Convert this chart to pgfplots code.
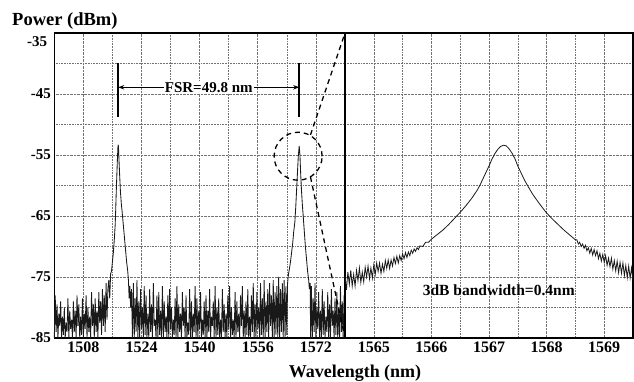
\documentclass[border=0pt]{standalone}
\usepackage{pgfplots}
\pgfplotsset{compat=1.18}
\usepackage{fontspec}
\setmainfont{Liberation Serif}
\usetikzlibrary{arrows.meta}
\begin{document}
\begin{tikzpicture}
\useasboundingbox (0bp,0bp) rectangle (634bp,382bp);
\pgfplotsset{
  every axis/.append style={
    scale only axis, height=305bp, ymin=-85, ymax=-35,
    ytick={-85,-75,-65,-55,-45,-35},
    minor ytick={-80,-70,-60,-50,-40},
    grid=both,
    grid style={densely dotted, black!55, line width=0.6pt},
    minor grid style={densely dotted, black!55, line width=0.6pt},
    axis line style={line width=1.1pt},
    major tick length=0pt, minor tick length=0pt,
    xticklabel style={font=\bfseries\fontsize{16bp}{18bp}\selectfont},
    yticklabel style={font=\bfseries\fontsize{15bp}{18bp}\selectfont},
    clip=false,
  }
}
\begin{axis}[at={(54.3bp,44bp)}, anchor=south west, width=290.7bp,
  xmin=1500, xmax=1580,
  xtick={1508,1524,1540,1556,1572}, xticklabels={1508,1524,1540,1556,1572},
  minor xtick={1500,1516,1532,1548,1564,1580},
  yticklabels={-85,-75,-65,-55,-45,{}}]
\addplot[black!90, line width=0.85pt] coordinates {
(1500.00,-85) (1500.25,-78) (1500.50,-84) (1500.75,-79.5) (1501.00,-85) (1501.25,-81)
(1501.50,-83) (1501.75,-79) (1502.00,-85) (1502.25,-81.5) (1502.50,-84.5) (1502.75,-80)
(1503.00,-85) (1503.25,-82.5) (1503.50,-84) (1503.75,-78.5) (1504.00,-85) (1504.25,-80.5)
(1504.50,-83.5) (1504.75,-82) (1505.00,-85) (1505.25,-79) (1505.50,-84) (1505.75,-80.5)
(1506.00,-85) (1506.25,-78) (1506.50,-83) (1506.75,-79.5) (1507.00,-85) (1507.25,-81.5)
(1507.50,-84.5) (1507.75,-78.5) (1508.00,-85) (1508.25,-81) (1508.50,-83.5) (1508.75,-78)
(1509.00,-85) (1509.25,-80) (1509.50,-84) (1509.75,-81.5) (1510.00,-85) (1510.25,-77.5)
(1510.50,-83) (1510.75,-79.5) (1511.00,-85) (1511.25,-78.5) (1511.50,-84) (1511.75,-80.5)
(1512.00,-85) (1512.25,-77.5) (1512.50,-82.5) (1512.75,-79) (1513.00,-84.5) (1513.25,-77)
(1513.50,-83) (1513.75,-78) (1514.00,-84) (1514.25,-76) (1514.50,-82) (1514.75,-77)
(1515.00,-75.5) (1515.25,-78.5) (1515.50,-74.5) (1515.75,-74) (1516.00,-72.5) (1516.25,-71)
(1516.50,-69) (1516.75,-66.5) (1516.90,-64) (1517.05,-61) (1517.20,-58.5) (1517.35,-56)
(1517.50,-53.8) (1517.60,-53.3) (1517.70,-54.2) (1517.85,-56.5) (1518.00,-58.5) (1518.20,-61)
(1518.45,-63) (1518.70,-64.5) (1519.00,-66.5) (1519.30,-68.5) (1519.60,-70.5) (1519.90,-72.5)
(1520.20,-74) (1520.40,-75.5) (1520.60,-78.5) (1520.80,-76.5) (1521.00,-80) (1521.25,-77)
(1521.50,-85)
(1521.75,-76) (1522.00,-85) (1522.25,-78.5) (1522.50,-84) (1522.75,-75.5) (1523.00,-85)
(1523.25,-79) (1523.50,-85) (1523.75,-77) (1524.00,-83.5) (1524.25,-80) (1524.50,-85)
(1524.75,-76.5) (1525.00,-84.5) (1525.25,-78) (1525.50,-85) (1525.75,-81) (1526.00,-85)
(1526.25,-77) (1526.50,-84) (1526.75,-79.5) (1527.00,-85) (1527.25,-76) (1527.50,-83)
(1527.75,-82) (1528.00,-85) (1528.25,-78) (1528.50,-85) (1528.75,-77.5) (1529.00,-84.5)
(1529.25,-80.5) (1529.50,-85) (1529.75,-76.5) (1530.00,-85) (1530.25,-79) (1530.50,-84)
(1530.75,-81.5) (1531.00,-85) (1531.25,-78) (1531.50,-85) (1531.75,-77) (1532.00,-83.5)
(1532.25,-80) (1532.50,-85) (1532.75,-82) (1533.00,-84.5) (1533.25,-78.5) (1533.50,-85)
(1533.75,-76.5) (1534.00,-85) (1534.25,-79.5) (1534.50,-84) (1534.75,-81) (1535.00,-85)
(1535.25,-77.5) (1535.50,-83) (1535.75,-80) (1536.00,-85) (1536.25,-78) (1536.50,-85)
(1536.75,-82.5) (1537.00,-84.5) (1537.25,-77) (1537.50,-85) (1537.75,-79) (1538.00,-85)
(1538.25,-81) (1538.50,-84) (1538.75,-76.5) (1539.00,-85) (1539.25,-78.5) (1539.50,-85)
(1539.75,-80.5) (1540.00,-83.5) (1540.25,-77.5) (1540.50,-85) (1540.75,-82) (1541.00,-84.5)
(1541.25,-79) (1541.50,-85) (1541.75,-78) (1542.00,-85) (1542.25,-80.5) (1542.50,-84)
(1542.75,-77) (1543.00,-85) (1543.25,-81.5) (1543.50,-83) (1543.75,-79) (1544.00,-85)
(1544.25,-76.5) (1544.50,-85) (1544.75,-80) (1545.00,-84.5) (1545.25,-78.5) (1545.50,-85)
(1545.75,-82) (1546.00,-85) (1546.25,-77) (1546.50,-84) (1546.75,-79.5) (1547.00,-85)
(1547.25,-81) (1547.50,-85) (1547.75,-78) (1548.00,-83.5) (1548.25,-76.5) (1548.50,-85)
(1548.75,-80) (1549.00,-84.5) (1549.25,-82) (1549.50,-85) (1549.75,-77.5) (1550.00,-85)
(1550.25,-79) (1550.50,-84) (1550.75,-81) (1551.00,-85) (1551.25,-78) (1551.50,-83)
(1551.75,-76.5) (1552.00,-85) (1552.25,-80.5) (1552.50,-85) (1552.75,-79) (1553.00,-84.5)
(1553.25,-77) (1553.50,-85) (1553.75,-81.5) (1554.00,-85) (1554.25,-78) (1554.50,-84)
(1554.75,-76) (1555.00,-85) (1555.25,-79.5) (1555.50,-85) (1555.75,-77.5) (1556.00,-83.5)
(1556.25,-80) (1556.50,-85) (1556.75,-76) (1557.00,-84.5) (1557.25,-78.5) (1557.50,-85)
(1557.75,-75.5) (1558.00,-85) (1558.25,-79) (1558.50,-84) (1558.75,-77) (1559.00,-85)
(1559.25,-76) (1559.50,-83) (1559.75,-78) (1560.00,-85) (1560.25,-75.5) (1560.50,-85)
(1560.75,-77.5) (1561.00,-84.5) (1561.25,-76.5) (1561.50,-85) (1561.75,-75) (1562.00,-85)
(1562.25,-77) (1562.50,-84) (1562.75,-76) (1563.00,-85) (1563.25,-75.5) (1563.50,-85)
(1563.75,-76.5)
(1564.00,-84.5) (1564.20,-76) (1564.45,-74.5) (1564.75,-73.5) (1565.00,-72.5) (1565.30,-71)
(1565.60,-69.5) (1565.90,-67.5) (1566.20,-66) (1566.45,-63.5) (1566.70,-60.5) (1566.95,-57.5)
(1567.15,-55.2) (1567.40,-53.5) (1567.60,-55) (1567.80,-58) (1568.00,-60.5) (1568.25,-63)
(1568.50,-65) (1568.80,-67.5) (1569.10,-70) (1569.40,-72) (1569.70,-74) (1570.00,-75.5)
(1570.20,-77) (1570.40,-76) (1570.55,-85)
(1570.75,-76.5) (1571.00,-85) (1571.25,-78.5) (1571.50,-84) (1571.75,-76) (1572.00,-85)
(1572.25,-80) (1572.50,-83.5) (1572.75,-77.5) (1573.00,-85) (1573.25,-80.5) (1573.50,-85)
(1573.75,-77) (1574.00,-84.5) (1574.25,-79) (1574.50,-85) (1574.75,-81.5) (1575.00,-84)
(1575.25,-77.5) (1575.50,-85) (1575.75,-79.5) (1576.00,-85) (1576.25,-77) (1576.50,-83)
(1576.75,-80.5) (1577.00,-85) (1577.25,-78.5) (1577.50,-84.5) (1577.75,-77.5) (1578.00,-85)
(1578.25,-80) (1578.50,-85) (1578.75,-76.5) (1579.00,-84) (1579.25,-79) (1579.50,-85)
(1579.75,-78) (1580.00,-85)
};
% -35 tick label, set a little below the top edge as in the original
\node[anchor=north east, inner sep=0pt, xshift=-7bp, yshift=-3bp, font=\bfseries\fontsize{15bp}{18bp}\selectfont] at (axis cs:1500,-35) {-35};
% FSR annotation
\draw[line width=1.6pt] (axis cs:1517.6,-39.9) -- (axis cs:1517.6,-48.8);
\draw[line width=1.6pt] (axis cs:1567.4,-39.9) -- (axis cs:1567.4,-48.8);
\draw[line width=1.1pt, -{Stealth[length=6pt,width=4.5pt]}] (axis cs:1531,-43.9) -- (axis cs:1517.6,-43.9);
\draw[line width=1.1pt, -{Stealth[length=6pt,width=4.5pt]}] (axis cs:1554,-43.9) -- (axis cs:1567.4,-43.9);
\node[fill=white, inner sep=1pt, font=\bfseries\fontsize{15bp}{17bp}\selectfont] at (axis cs:1542.5,-43.9) {FSR=49.8 nm};
% zoom circle and lines
\draw[line width=1.3pt, dash pattern=on 5pt off 4pt] (axis cs:1567.1,-55.2) circle[radius=24bp];
\draw[line width=1.3pt, dash pattern=on 5pt off 4pt] (axis cs:1570.5,-51.7) -- (axis cs:1580,-35);
\draw[line width=1.3pt, dash pattern=on 5pt off 4pt] (axis cs:1570.5,-58.6) -- (axis cs:1580,-85);
\end{axis}
\begin{axis}[at={(345bp,44bp)}, anchor=south west, width=288bp,
  xmin=1564.5, xmax=1569.5,
  xtick={1565,1566,1567,1568,1569}, xticklabels={1565,1566,1567,1568,1569},
  minor xtick={1564.5,1565.5,1566.5,1567.5,1568.5,1569.5},
  yticklabels={}]
\addplot[black!90, line width=0.8pt] coordinates {
(1564.500,-74.8) (1564.525,-77.1) (1564.550,-74.2) (1564.575,-76.2) (1564.600,-73.9) (1564.625,-76.5)
(1564.650,-74.6) (1564.675,-76.5) (1564.700,-73.9) (1564.725,-75.6) (1564.750,-73.5) (1564.775,-75.9)
(1564.800,-74.2) (1564.825,-75.8) (1564.850,-73.4) (1564.875,-75.0) (1564.900,-73.2) (1564.925,-75.3)
(1564.950,-73.5) (1564.975,-75.2) (1565.000,-73.0) (1565.025,-74.6) (1565.050,-72.7) (1565.075,-74.1)
(1565.100,-72.7) (1565.125,-74.4) (1565.150,-72.9) (1565.175,-74.1) (1565.200,-72.3) (1565.225,-73.6)
(1565.250,-72.2) (1565.275,-73.6) (1565.300,-72.2) (1565.325,-73.2) (1565.350,-71.8) (1565.375,-72.8)
(1565.400,-71.6) (1565.425,-72.7) (1565.450,-71.5) (1565.475,-72.3) (1565.500,-71.2) (1565.525,-72.0)
(1565.550,-71.0) (1565.575,-71.8) (1565.600,-70.9) (1565.625,-71.5) (1565.650,-70.6) (1565.675,-71.1)
(1565.700,-70.4) (1565.725,-70.8) (1565.750,-70.2) (1565.775,-70.5) (1565.800,-69.9) (1565.850,-70.0)
(1565.900,-69.3) (1565.950,-69.3)
(1566.00,-68.8) (1566.10,-68.05) (1566.20,-67.3) (1566.30,-66.4) (1566.40,-65.4) (1566.50,-64.4)
(1566.60,-63.3) (1566.70,-62.1) (1566.80,-60.7) (1566.85,-59.8) (1566.90,-58.8) (1566.95,-57.8)
(1567.00,-56.8) (1567.05,-55.7) (1567.10,-54.8) (1567.15,-54.1) (1567.20,-53.6) (1567.25,-53.4)
(1567.30,-53.5) (1567.35,-54.0) (1567.40,-54.7) (1567.45,-55.6) (1567.50,-56.8) (1567.55,-57.8)
(1567.60,-58.8) (1567.65,-59.7) (1567.70,-60.5) (1567.75,-61.3) (1567.80,-62.0) (1567.90,-63.3)
(1568.00,-64.5) (1568.10,-65.5) (1568.20,-66.4) (1568.30,-67.3) (1568.40,-68.1) (1568.50,-68.9)
(1568.525,-68.9) (1568.550,-69.6) (1568.575,-69.3) (1568.600,-70.0) (1568.625,-69.6) (1568.650,-70.3)
(1568.675,-69.8) (1568.700,-70.7) (1568.725,-70.2) (1568.750,-71.1) (1568.775,-70.3) (1568.800,-71.4)
(1568.825,-70.5) (1568.850,-71.5) (1568.875,-70.7) (1568.900,-72.0) (1568.925,-71.1) (1568.950,-72.4)
(1568.975,-71.3) (1569.000,-72.6) (1569.025,-71.5) (1569.050,-73.1) (1569.075,-71.9) (1569.100,-73.3)
(1569.125,-71.9) (1569.150,-73.7) (1569.175,-72.3) (1569.200,-74.0) (1569.225,-72.4) (1569.250,-74.3)
(1569.275,-72.6) (1569.300,-74.4) (1569.325,-72.7) (1569.350,-74.8) (1569.375,-73.1) (1569.400,-75.1)
(1569.425,-73.2) (1569.450,-75.2) (1569.475,-73.5) (1569.500,-75.6)
};
\node[font=\bfseries\fontsize{15.5bp}{18bp}\selectfont] at (axis cs:1567.17,-77.1) {3dB bandwidth=0.4nm};
\end{axis}
\node[anchor=west, inner sep=0pt, font=\bfseries\fontsize{18.5bp}{21bp}\selectfont] at (12bp,361bp) {Power (dBm)};
\node[font=\bfseries\fontsize{18bp}{21bp}\selectfont] at (355bp,9bp) {Wavelength (nm)};
\end{tikzpicture}
\end{document}
